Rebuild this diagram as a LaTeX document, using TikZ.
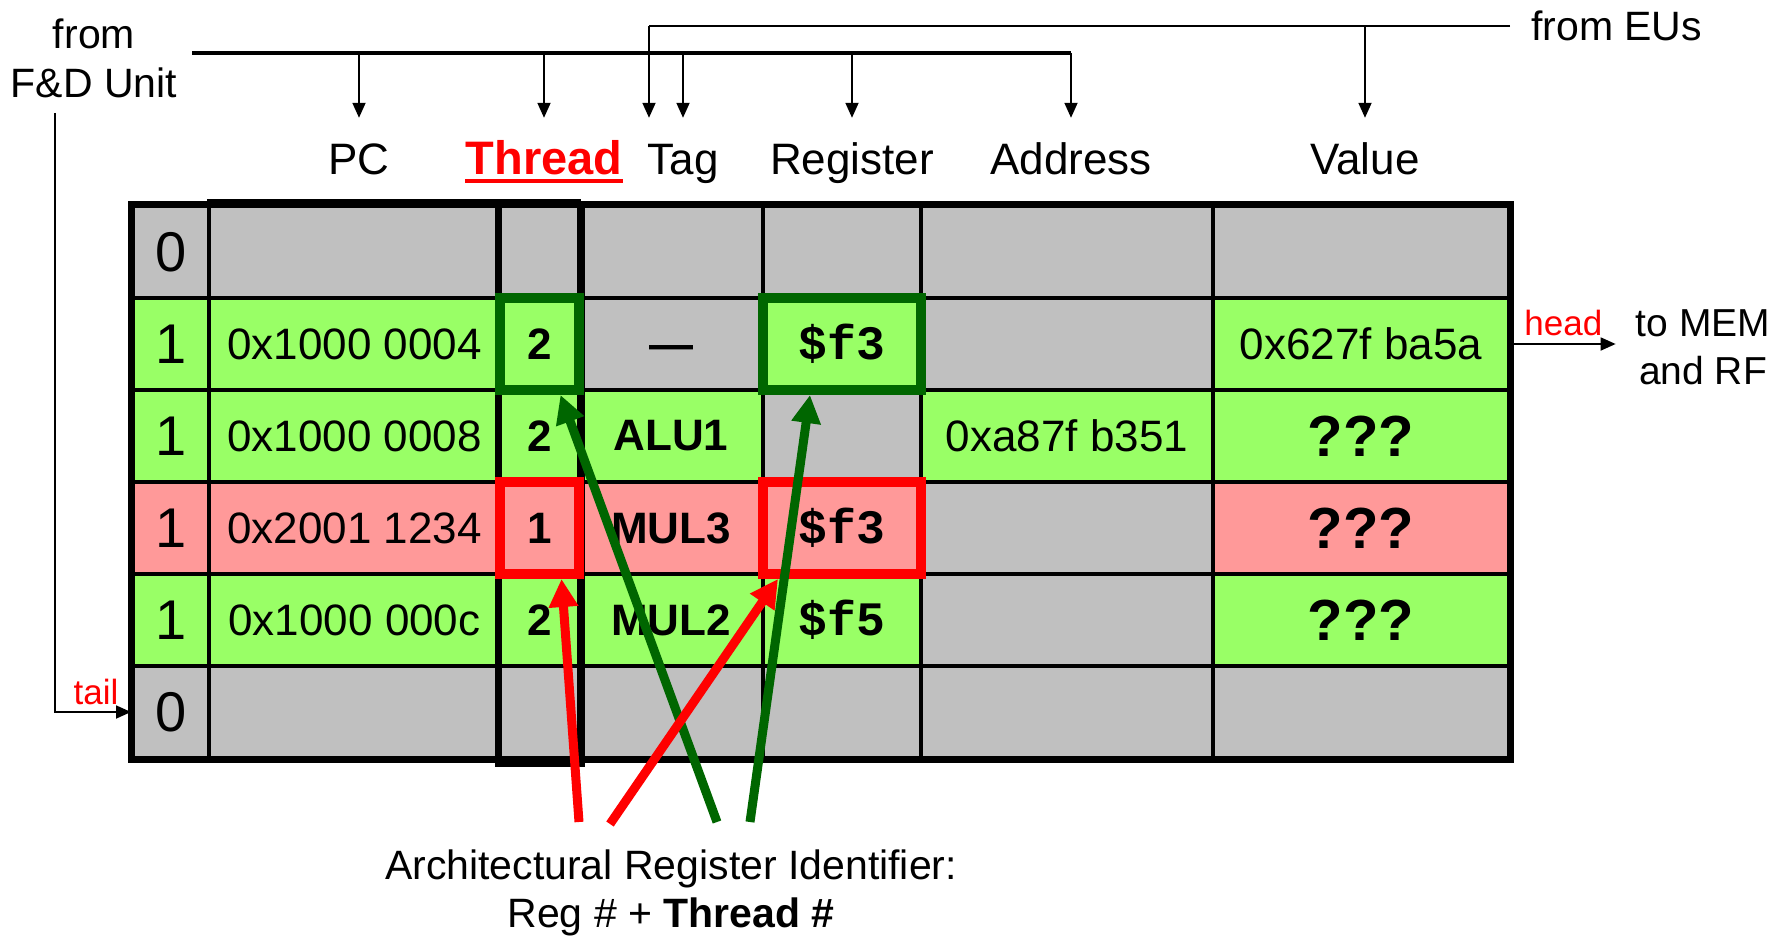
\documentclass[tikz,border=0pt]{standalone}
\usepackage{fontspec}
\setmainfont{Liberation Sans}
\setmonofont{Liberation Mono}
\usetikzlibrary{arrows.meta}
\definecolor{cellgray}{HTML}{C0C0C0}
\definecolor{cellgreen}{HTML}{99FF66}
\definecolor{cellpink}{HTML}{FF9999}
\definecolor{darkgrn}{HTML}{006600}
\tikzset{
  cell/.style={draw=black, line width=4pt, inner sep=0pt, minimum height=92pt},
  cV/.style={minimum width=76pt},
  cP/.style={minimum width=291pt},
  cT/.style={minimum width=79pt},
  cG/.style={minimum width=184pt},
  cR/.style={minimum width=158pt},
  cA/.style={minimum width=292pt},
  cX/.style={minimum width=296pt},
  gry/.style={fill=cellgray},
  grn/.style={fill=cellgreen},
  pnk/.style={fill=cellpink},
  bit/.style={font=\fontsize{56}{60}\selectfont},
  num/.style={font=\fontsize{44}{50}\selectfont},
  bnum/.style={font=\bfseries\fontsize{44}{50}\selectfont},
  mono/.style={font=\ttfamily\bfseries\fontsize{48}{50}\selectfont},
  qq/.style={font=\bfseries\fontsize{58}{60}\selectfont},
  hdr/.style={font=\fontsize{44}{50}\selectfont, anchor=base, inner xsep=0pt,
              text height=32pt, text depth=9pt, inner ysep=25pt},
  side/.style={font=\fontsize{41}{49}\selectfont, align=center},
  bus/.style={line width=3.2pt},
  stem/.style={line width=1.8pt, -{Triangle[length=15pt,width=13pt]}},
  thinarr/.style={line width=1.8pt, -{Triangle[length=15pt,width=13pt]}},
  tag/.style={text=red, font=\fontsize{35}{40}\selectfont},
  hibox/.style={draw, line width=10pt, inner sep=0pt, minimum height=92pt},
  fatarr/.style={line width=9pt, -{Triangle[length=28pt,width=28pt]}},
}
\begin{document}
\begin{tikzpicture}[x=1pt,y=-1pt]
\useasboundingbox (0,0) rectangle (1791,939);

% ---------- reorder buffer rows ----------
% row 0 (free)
\node[cell,cV,gry,bit] (r0v) at (171,252) {0};
\node[cell,cP,gry] (r0p) at (354.5,252) {};
\node[cell,cT,gry] (r0t) at (539.5,252) {};
\node[cell,cG,gry] (r0g) at (671,252) {};
\node[cell,cR,gry] (r0r) at (842,252) {};
\node[cell,cA,gry] (r0a) at (1067,252) {};
\node[cell,cX,gry] (r0x) at (1361,252) {};
% row 1 (head)
\node[cell,cV,grn,bit] (r1v) at (171,344) {1};
\node[cell,cP,grn,num] (r1p) at (354.5,344) {0x1000 0004};
\node[cell,cT,grn,bnum] (r1t) at (539.5,344) {2};
\node[cell,cG,gry,bnum,text height=30pt,text depth=0pt] (r1g) at (671,344) {—};
\node[cell,cR,grn,mono] (r1r) at (842,344) {\$f3};
\node[cell,cA,gry] (r1a) at (1067,344) {};
\node[cell,cX,grn,num] (r1x) at (1361,344) {0x627f ba5a};
% row 2
\node[cell,cV,grn,bit] (r2v) at (171,436) {1};
\node[cell,cP,grn,num] (r2p) at (354.5,436) {0x1000 0008};
\node[cell,cT,grn,bnum] (r2t) at (539.5,436) {2};
\node[cell,cG,grn,bnum] (r2g) at (671,436) {ALU1};
\node[cell,cR,gry] (r2r) at (842,436) {};
\node[cell,cA,grn,num] (r2a) at (1067,436) {0xa87f b351};
\node[cell,cX,grn,qq] (r2x) at (1361,436) {???};
% row 3 (other thread)
\node[cell,cV,pnk,bit] (r3v) at (171,528) {1};
\node[cell,cP,pnk,num] (r3p) at (354.5,528) {0x2001 1234};
\node[cell,cT,pnk,bnum] (r3t) at (539.5,528) {1};
\node[cell,cG,pnk,bnum] (r3g) at (671,528) {MUL3};
\node[cell,cR,pnk,mono] (r3r) at (842,528) {\$f3};
\node[cell,cA,gry] (r3a) at (1067,528) {};
\node[cell,cX,pnk,qq] (r3x) at (1361,528) {???};
% row 4
\node[cell,cV,grn,bit] (r4v) at (171,620) {1};
\node[cell,cP,grn,num] (r4p) at (354.5,620) {0x1000 000c};
\node[cell,cT,grn,bnum] (r4t) at (539.5,620) {2};
\node[cell,cG,grn,bnum] (r4g) at (671,620) {MUL2};
\node[cell,cR,grn,mono] (r4r) at (842,620) {\$f5};
\node[cell,cA,gry] (r4a) at (1067,620) {};
\node[cell,cX,grn,qq] (r4x) at (1361,620) {???};
% row 5 (tail)
\node[cell,cV,gry,bit] (r5v) at (171,712) {0};
\node[cell,cP,gry] (r5p) at (354.5,712) {};
\node[cell,cT,gry] (r5t) at (539.5,712) {};
\node[cell,cG,gry] (r5g) at (671,712) {};
\node[cell,cR,gry] (r5r) at (842,712) {};
\node[cell,cA,gry] (r5a) at (1067,712) {};
\node[cell,cX,gry] (r5x) at (1361,712) {};

% outer frame and thread column frame
\draw[line width=6pt] (r0v.north west) rectangle (r5x.south east);
\draw[line width=7pt] ([yshift=2pt]r0p.north west) -- ([yshift=2pt]r0t.north east);
\draw[line width=7pt] (r0t.north west) rectangle ([yshift=-3pt]r5t.south east);

% ---------- column headers ----------
\node[hdr] (hPC) at (359,175) {PC};
\node[hdr, font=\bfseries\fontsize{47}{50}\selectfont, text=red] (hThr) at (544,175) {Thread};
\draw[red, line width=4.5pt] ([yshift=-6pt]hThr.base west) -- ([yshift=-6pt]hThr.base east);
\node[hdr] (hTag) at (683,175) {Tag};
\node[hdr] (hReg) at (852,175) {Register};
\node[hdr] (hAdr) at (1071,175) {Address};
\node[hdr] (hVal) at (1365,175) {Value};

% ---------- input buses ----------
\node[side] (fdu) at (94,58) {from\\F\&D Unit};
\coordinate (fdbus) at (192,53);
\coordinate (tailtop) at (55,113);
\draw[bus] (fdbus) -- (hAdr.north |- fdbus);
\draw[stem] (hAdr.north |- fdbus) -- (hAdr.north);
\draw[stem] (hPC.north |- fdbus) -- (hPC.north);
\draw[stem] (hThr.north |- fdbus) -- (hThr.north);
\draw[stem] (hTag.north |- fdbus) -- (hTag.north);
\draw[stem] (hReg.north |- fdbus) -- (hReg.north);

\node[side, inner xsep=21pt, anchor=west] (feu) at (1510,26) {from EUs};
\coordinate (eutag) at ([xshift=-34pt]hTag.north);
\draw[line width=2.6pt] (feu.west) -- (eutag |- feu.west);
\draw[stem] (eutag |- feu.west) -- (eutag);
\draw[stem] (hVal.north |- feu.west) -- (hVal.north);

% ---------- head and tail pointers ----------
\node[side, font=\fontsize{39}{48}\selectfont, inner xsep=20pt] (tomem) at (1703,347) {to MEM\\and RF};
\draw[thinarr] (r1x.east) -- node[tag, above, yshift=4pt] (hd) {head} (r1x.east -| tomem.west);
\draw[thinarr] (tailtop) |- node[tag, pos=0.77, above, yshift=3pt] (tl) {tail} (r5v.west);

% ---------- same-register entries ----------
\node[hibox, draw=darkgrn, minimum width=79pt] (gb1) at (r1t) {};
\node[hibox, draw=darkgrn, minimum width=158pt] (gb2) at (r1r) {};
\node[hibox, draw=red, minimum width=79pt] (rb1) at (r3t) {};
\node[hibox, draw=red, minimum width=158pt] (rb2) at (r3r) {};

\node[side, font=\fontsize{41}{48}\selectfont] (ari) at (671,893)
  {Architectural Register Identifier:\\Reg \# + \textbf{Thread \#}};

\coordinate (rs1) at (579,822);
\coordinate (rs2) at (610,824);
\coordinate (gs1) at (717,822);
\coordinate (gs2) at (750,822);
\draw[fatarr, darkgrn] (gs1) -- ([xshift=21pt]gb1.south);
\draw[fatarr, darkgrn] (gs2) -- ([xshift=-32pt]gb2.south);
\draw[fatarr, red] (rs1) -- ([xshift=22pt]rb1.south);
\draw[fatarr, red] (rs2) -- ([xshift=20pt]rb2.south west);
\end{tikzpicture}
\end{document}
